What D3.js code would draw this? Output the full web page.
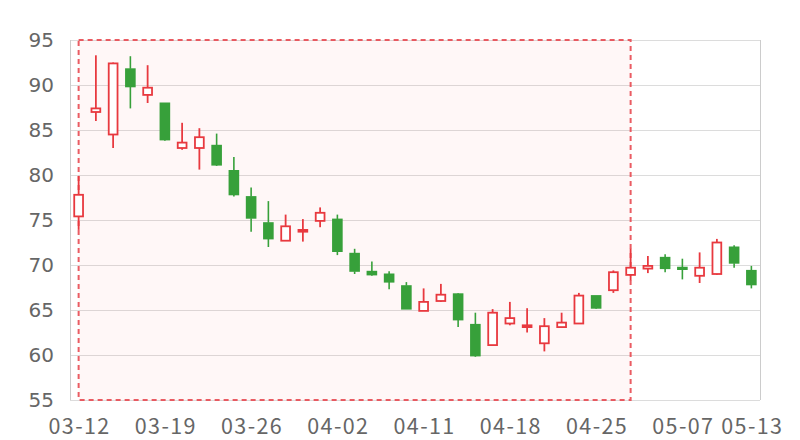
<!DOCTYPE html>
<html>
<head>
<meta charset="utf-8">
<script src="https://cdn.jsdelivr.net/npm/d3@7/dist/d3.min.js"></script>
<style>
  html, body { margin: 0; padding: 0; background: #fff; }
  svg { display: block; }
</style>
</head>
<body>
<svg id="chart" width="800" height="440"></svg>
<script>
// ---- data ----
const dates = ["03-12","03-13","03-14","03-15","03-18","03-19","03-20","03-21","03-22","03-25",
  "03-26","03-27","03-28","03-29","04-01","04-02","04-03","04-08","04-09","04-10",
  "04-11","04-12","04-15","04-16","04-17","04-18","04-19","04-22","04-23","04-24",
  "04-25","04-26","04-29","04-30","05-06","05-07","05-08","05-09","05-10","05-13"];
const openVals  = [75.4, 87.0, 84.5, 91.8, 88.9, 88.0, 83.0, 83.0, 83.3, 80.5, 77.6, 74.7, 72.7, 73.7, 74.9, 75.1, 71.3, 69.3, 69.0, 67.7, 64.9, 66.0, 66.8, 63.4, 61.1, 63.5, 63.1, 61.3, 63.1, 63.5, 66.6, 67.2, 68.9, 69.6, 70.85, 69.75, 68.8, 69.0, 72.0, 69.4];
const closeVals = [77.8, 87.4, 92.4, 89.8, 89.7, 83.9, 83.6, 84.2, 81.1, 77.8, 75.2, 72.9, 74.3, 73.9, 75.8, 71.5, 69.3, 68.9, 68.1, 65.1, 65.9, 66.7, 63.9, 59.9, 64.7, 64.1, 63.3, 63.2, 63.6, 66.6, 65.2, 69.2, 69.7, 69.9, 69.6, 69.5, 69.7, 72.5, 70.2, 67.8];
const lowVals   = [73.9, 86.0, 83.0, 87.4, 88.0, 83.8, 82.8, 80.6, 81.0, 77.6, 73.7, 72.0, 72.7, 72.6, 74.2, 71.1, 69.0, 68.8, 67.3, 65.1, 64.9, 65.9, 63.1, 59.8, 61.1, 63.3, 62.5, 60.4, 63.1, 63.5, 65.1, 66.9, 68.3, 69.1, 69.2, 68.4, 68.0, 68.9, 69.7, 67.4];
const highVals  = [79.9, 93.3, 92.5, 93.2, 92.2, 88.0, 85.8, 85.2, 84.6, 82.0, 78.6, 77.1, 75.6, 75.1, 76.4, 75.6, 71.8, 70.4, 69.3, 68.1, 67.4, 67.9, 66.9, 64.7, 65.1, 65.9, 65.2, 64.1, 64.7, 66.9, 66.6, 69.4, 71.8, 71.0, 71.2, 70.7, 71.4, 72.9, 72.2, 69.9];
const yTicks = [55, 60, 65, 70, 75, 80, 85, 90, 95];
const xTickLabels = ["03-12","03-19","03-26","04-02","04-11","04-18","04-25","05-07","05-13"];
const areaStart = "03-12", areaEnd = "04-29";

// ---- layout ----
const padL = 70, padR = 760, padT = 40, padB = 400;
const upColor = "#e8393f", downColor = "#37a03a";

const svg = d3.select("#chart");
const x = d3.scaleBand().domain(dates).range([padL, padR]).padding(0);
const y = d3.scaleLinear().domain([55, 95]).range([padB, padT]);
const cx = d => x(d) + x.bandwidth() / 2;

// grid
svg.append("g").selectAll("line").data(yTicks).join("line")
  .attr("x1", padL).attr("x2", padR)
  .attr("y1", d => y(d)).attr("y2", d => y(d))
  .attr("stroke", "#dcdcdc").attr("stroke-width", 1).attr("shape-rendering", "crispEdges");
// frame verticals
svg.append("line").attr("x1", padL).attr("x2", padL).attr("y1", padT).attr("y2", padB)
  .attr("stroke", "#cccccc").attr("shape-rendering", "crispEdges");
svg.append("line").attr("x1", padR).attr("x2", padR).attr("y1", padT).attr("y2", padB)
  .attr("stroke", "#cccccc").attr("shape-rendering", "crispEdges");

// mark area
svg.append("rect")
  .attr("x", cx(areaStart)).attr("y", y(95))
  .attr("width", cx(areaEnd) - cx(areaStart)).attr("height", y(55) - y(95))
  .attr("fill", "#ff0000").attr("fill-opacity", 0.03)
  .attr("stroke", "#e84a52").attr("stroke-opacity", 0.9)
  .attr("stroke-width", 2).attr("stroke-dasharray", "5,4");

// y labels
svg.append("g").selectAll("text").data(yTicks).join("text")
  .attr("x", 54).attr("y", d => y(d) + 7)
  .attr("text-anchor", "end")
  .attr("font-family", "DejaVu Sans").attr("font-size", 20).attr("fill", "#666")
  .text(d => d);

// x labels
svg.append("g").selectAll("text").data(xTickLabels).join("text")
  .attr("x", d => cx(d) + 1).attr("y", 434)
  .attr("text-anchor", "middle")
  .attr("font-family", "Noto Sans CJK SC").attr("font-size", 21.5)
  .attr("letter-spacing", 1.4).attr("fill", "#666")
  .text(d => d);

// candles
const data = dates.map((d, i) => ({ d, o: openVals[i], c: closeVals[i], l: lowVals[i], h: highVals[i] }));
const bw = 10.6;
const g = svg.append("g");
data.forEach(k => {
  const up = k.c >= k.o;
  const col = up ? upColor : downColor;
  const x0 = cx(k.d);
  const yt = y(Math.max(k.o, k.c)), yb = y(Math.min(k.o, k.c));
  g.append("line").attr("x1", x0).attr("x2", x0).attr("y1", y(k.h)).attr("y2", yt)
    .attr("stroke", col).attr("stroke-width", up ? 1.8 : 1.6);
  g.append("line").attr("x1", x0).attr("x2", x0).attr("y1", yb).attr("y2", y(k.l))
    .attr("stroke", col).attr("stroke-width", up ? 1.8 : 1.6);
  if (up) {
    const hgt = Math.max(yb - yt, 0.5);
    g.append("rect").attr("x", x0 - bw / 2 + 0.9).attr("y", yt)
      .attr("width", bw - 1.8).attr("height", hgt)
      .attr("fill", "#fff").attr("stroke", col).attr("stroke-width", 1.8);
  } else {
    g.append("rect").attr("x", x0 - bw / 2).attr("y", yt - 0.5)
      .attr("width", bw).attr("height", Math.max(yb - yt + 1, 1.5))
      .attr("fill", col);
  }
});
</script>
</body>
</html>
